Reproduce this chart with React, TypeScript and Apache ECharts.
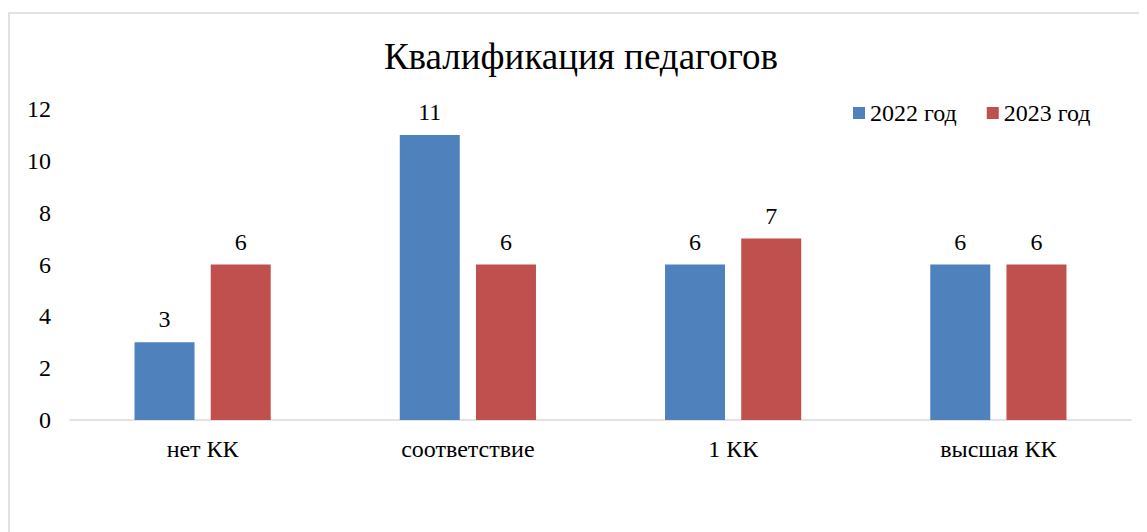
import React, { useEffect, useRef } from "react";
import * as echarts from "echarts";

const categories = ["нет КК", "соответствие", "1 КК", "высшая КК"];
const series2022 = [3, 11, 6, 6];
const series2023 = [6, 6, 7, 6];
const seriesNames = ["2022 год", "2023 год"];
const titleText = "Квалификация педагогов";

const FONT = "Liberation Serif";

export default function App() {
  const ref = useRef<HTMLDivElement>(null);
  useEffect(() => {
    if (!ref.current) return;
    const chart = echarts.init(ref.current, null, { renderer: "svg" });
    const label = {
      show: true,
      position: "top",
      distance: 11,
      fontFamily: FONT,
      fontSize: 24,
      color: "#000",
    };
    chart.setOption({
      animation: false,
      backgroundColor: "#fff",
      textStyle: { fontFamily: FONT },
      title: {
        text: titleText,
        left: 568,
        textAlign: "center",
        top: 25,
        textStyle: { fontFamily: FONT, fontSize: 37, fontWeight: "normal", color: "#000" },
      },
      legend: {
        left: 840,
        top: 88,
        itemWidth: 12,
        itemHeight: 12,
        itemGap: 30,
        icon: "rect",
        textStyle: { fontFamily: FONT, fontSize: 24, color: "#000" },
        data: seriesNames,
      },
      grid: { left: 62, right: 16, top: 101, bottom: 112, containLabel: false },
      xAxis: {
        type: "category",
        data: categories,
        axisLine: { show: true, lineStyle: { color: "#d9d9d9", width: 1.5 } },
        axisTick: { show: false },
        axisLabel: { fontFamily: FONT, fontSize: 24, color: "#000", margin: 17 },
      },
      yAxis: {
        type: "value",
        min: 0,
        max: 12,
        interval: 2,
        axisLine: { show: false },
        axisTick: { show: false },
        splitLine: { show: false },
        axisLabel: { fontFamily: FONT, fontSize: 24, color: "#000", margin: 19 },
      },
      graphic: [
        {
          type: "polyline",
          shape: { points: [[1, 524], [1, 5], [1139, 5]] },
          style: { stroke: "#d9d9d9", lineWidth: 1.5, fill: "none" },
          silent: true,
        },
      ],
      series: [
        {
          name: seriesNames[0],
          type: "bar",
          data: series2022,
          barWidth: 60,
          barGap: "27%",
          itemStyle: { color: "#4F81BD" },
          label,
        },
        {
          name: seriesNames[1],
          type: "bar",
          data: series2023,
          barWidth: 60,
          barGap: "27%",
          itemStyle: { color: "#C0504D" },
          label,
        },
      ],
    });
    return () => chart.dispose();
  }, []);
  return <div ref={ref} style={{ width: 1139, height: 524 }} />;
}
